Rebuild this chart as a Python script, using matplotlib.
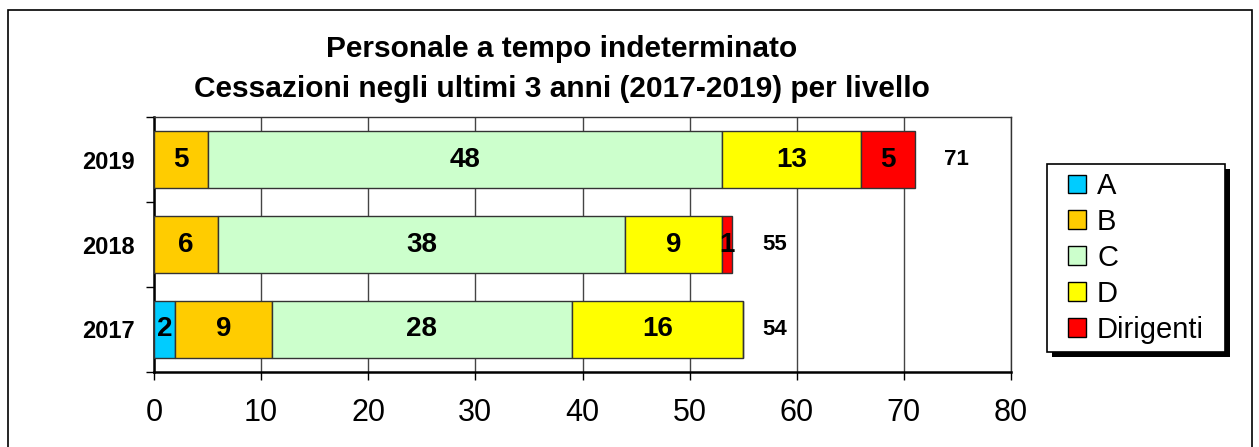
import numpy as np
import matplotlib
matplotlib.use('Agg')
import matplotlib.pyplot as plt
from matplotlib.patches import Rectangle, Patch

plt.rcParams['font.family'] = ['Liberation Sans', 'DejaVu Sans']

#%% data
anni = ['2017', '2018', '2019']
livelli = ['A', 'B', 'C', 'D', 'Dirigenti']
liv_a = [2, 0, 0]
liv_b = [9, 6, 5]
liv_c = [28, 38, 48]
liv_d = [16, 9, 13]
dirigenti = [0, 1, 5]
totali = [54, 55, 71]   # totali riportati a destra delle barre
colori = ['#00CCFF', '#FFCC00', '#CCFFCC', '#FFFF00', '#FF0000']

serie = [liv_a, liv_b, liv_c, liv_d, dirigenti]

W, H = 1259, 447

#%% figure
fig = plt.figure(figsize=(W / 100, H / 100), dpi=100)
# cornice esterna
fig.patches.append(Rectangle((8 / W, -0.05), 1244 / W, 1.0 - 10 / H + 0.05,
                             transform=fig.transFigure, fill=False,
                             edgecolor='black', linewidth=1.2))

ax = fig.add_axes([154 / W, 75 / H, 857 / W, 255 / H])

y = np.arange(len(anni))
left = np.zeros(len(anni))
for vals, col, nome in zip(serie, colori, livelli):
    vals = np.array(vals)
    ax.barh(y, vals, left=left, height=0.67, color=col, edgecolor='#333333',
            linewidth=1.0, label=nome, zorder=3)
    for yi, (v, l) in enumerate(zip(vals, left)):
        if v > 0:
            ax.text(l + v / 2, yi, str(v), ha='center', va='center',
                    fontsize=20, fontweight='bold', zorder=4)
    left += vals

for yi, t in enumerate(totali):
    ax.text(min(t, left[yi]) + 3.9, yi, str(t), ha='center', va='center',
            fontsize=16, fontweight='bold')

ax.set_xlim(0, 80)
ax.set_ylim(-0.5, 2.5)
ax.set_xticks(np.arange(0, 81, 10))
ax.tick_params(axis='x', labelsize=22, length=6, width=1, pad=13, direction='out')
ax.set_yticks(y)
ax.set_yticklabels(anni, fontsize=17, fontweight='bold')
ax.tick_params(axis='y', length=0, pad=14)
ax.set_yticks(np.arange(-0.5, 2.6, 1), minor=True)
ax.tick_params(axis='y', which='minor', length=6, width=1)
ax.xaxis.grid(True, color='#444444', linewidth=1.0, zorder=0)
ax.set_axisbelow(True)
for s in ax.spines.values():
    s.set_linewidth(1.0)
    s.set_color('#333333')
for s in ('left', 'bottom'):
    ax.spines[s].set_linewidth(1.8)
    ax.spines[s].set_color('black')

fig.text(562 / W, 1 - 49 / H, 'Personale a tempo indeterminato',
         ha='center', va='center', fontsize=21.5, fontweight='bold')
fig.text(562 / W, 1 - 89 / H, 'Cessazioni negli ultimi 3 anni (2017-2019) per livello',
         ha='center', va='center', fontsize=21.5, fontweight='bold')

#%% legend: cornice con ombra + voci
lx0, ly0, lx1, ly1 = 1047, 164, 1225, 352
fig.patches.append(Rectangle(((lx0 + 5) / W, 1 - (ly1 + 5) / H), (lx1 - lx0) / W,
                             (ly1 - ly0) / H, transform=fig.transFigure,
                             facecolor='black', edgecolor='none', zorder=1))
fig.patches.append(Rectangle((lx0 / W, 1 - ly1 / H), (lx1 - lx0) / W,
                             (ly1 - ly0) / H, transform=fig.transFigure,
                             facecolor='white', edgecolor='black',
                             linewidth=1.2, zorder=2))
handles = [Patch(facecolor=c, edgecolor='black', linewidth=1.0, label=n)
           for c, n in zip(colori, livelli)]
leg = fig.legend(handles=handles, loc='center',
                 bbox_to_anchor=((lx0 + lx1) / 2 / W, 1 - (ly0 + ly1) / 2 / H),
                 fontsize=21, frameon=False,
                 handlelength=0.62, handleheight=0.62, handletextpad=0.38,
                 labelspacing=0.27, borderpad=0, borderaxespad=0)
leg.set_zorder(5)

fig.savefig('out.png', dpi=100)
